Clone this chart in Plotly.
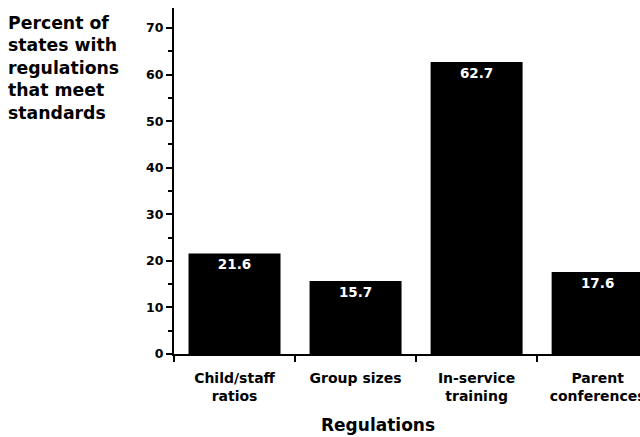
import plotly.graph_objects as go

categories = ["Child/staff<br>ratios", "Group sizes", "In-service<br>training", "Parent<br>conferences"]
values = [21.6, 15.7, 62.7, 17.6]
y_ticks = [0, 10, 20, 30, 40, 50, 60, 70]
y_title = "Percent of<br>states with<br>regulations<br>that meet<br>standards"
x_title = "Regulations"

FONT = "DejaVu Sans"

fig = go.Figure()
fig.add_trace(go.Bar(
    x=categories,
    y=values,
    texttemplate="%{y:.1f}",
    textposition="inside",
    insidetextanchor="end",
    textfont=dict(family=FONT, size=13.5, color="white", weight="bold"),
    marker=dict(color="black", line=dict(width=0)),
    width=0.76,
    cliponaxis=True,
))

fig.update_layout(
    width=640, height=437,
    margin=dict(l=174, r=0, t=8, b=83, autoexpand=False),
    paper_bgcolor="white",
    plot_bgcolor="white",
    showlegend=False,
    font=dict(family=FONT, color="black"),
    xaxis=dict(
        type="category",
        range=[-0.5, 3.35],
        automargin=False,
        showline=True, linecolor="black", linewidth=2,
        ticks="outside", ticklen=6, tickwidth=1.5, tickcolor="black",
        tickson="boundaries",
        showgrid=False, zeroline=False,
        tickfont=dict(family=FONT, size=14, color="black", weight="bold"),
        ticklabelstandoff=10,
    ),
    yaxis=dict(
        range=[0, 74.3],
        tickvals=y_ticks,
        automargin=False,
        showline=True, linecolor="black", linewidth=2,
        ticks="outside", ticklen=6, tickwidth=1.5, tickcolor="black",
        minor=dict(dtick=5, ticks="outside", ticklen=4, tickwidth=1.5, tickcolor="black", showgrid=False),
        showgrid=False, zeroline=False,
        tickfont=dict(family=FONT, size=12.5, color="black", weight="bold"),
    ),
    annotations=[
        dict(text=y_title, xref="paper", yref="paper", x=-0.36, y=0.99,
             xanchor="left", yanchor="top", align="left", showarrow=False,
             font=dict(family=FONT, size=17.3, color="black", weight="bold")),
        dict(text=x_title, xref="paper", yref="paper", x=0.438, y=-0.205,
             xanchor="center", yanchor="middle", showarrow=False,
             font=dict(family=FONT, size=17, color="black", weight="bold")),
    ],
)

fig.write_html(
    "out.html",
    config={"displayModeBar": False},
    post_script="document.body.style.margin='0';document.body.style.overflow='hidden';",
)
